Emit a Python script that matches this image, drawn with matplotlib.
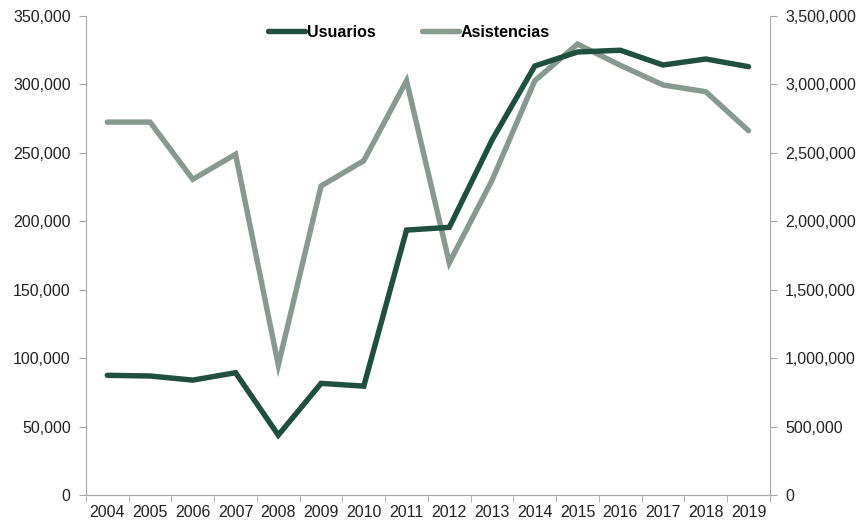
import matplotlib.pyplot as plt
from matplotlib.ticker import FuncFormatter, FixedLocator
import numpy as np

plt.rcParams['font.family'] = ['Liberation Sans', 'DejaVu Sans']

years = ['2004', '2005', '2006', '2007', '2008', '2009', '2010', '2011',
         '2012', '2013', '2014', '2015', '2016', '2017', '2018', '2019']
usuarios = [87500, 87000, 84000, 89400, 43800, 81600, 79600, 193600,
            195600, 259400, 313500, 323700, 325000, 314200, 318600, 313000]
asistencias = [2725000, 2725000, 2307000, 2490000, 950000, 2258000, 2443000, 3027000,
               1697000, 2300000, 3027000, 3295000, 3140000, 2996000, 2947000, 2662000]

c_usr = '#1f4f3e'
c_asi = '#879a90'
c_axis = '#a6a6a6'
fs = 11.5

fig = plt.figure(figsize=(8.68, 5.25), dpi=100)
ax = fig.add_axes([0.099, 0.057, 0.788, 0.9125])
ax2 = ax.twinx()

x = np.arange(len(years))
l1, = ax.plot(x, usuarios, color=c_usr, lw=3.9, solid_capstyle='round',
              solid_joinstyle='miter', label='Usuarios', zorder=3)
l2, = ax2.plot(x, asistencias, color=c_asi, lw=3.9, solid_capstyle='round',
               solid_joinstyle='miter', label='Asistencias', zorder=2)
ax.set_zorder(ax2.get_zorder() + 1)
ax.patch.set_visible(False)

ax.set_xlim(-0.5, len(years) - 0.5)
ax.set_ylim(0, 350000)
ax2.set_ylim(0, 3500000)
ax.set_yticks(np.arange(0, 350001, 50000))
ax2.set_yticks(np.arange(0, 3500001, 500000))
fmt = FuncFormatter(lambda v, p: f'{int(v):,}')
ax.yaxis.set_major_formatter(fmt)
ax2.yaxis.set_major_formatter(fmt)

ax.set_xticks(x)
ax.set_xticklabels(years)
ax.xaxis.set_minor_locator(FixedLocator(np.arange(-0.5, len(years), 1)))
ax.tick_params(axis='x', which='major', length=0, pad=7)
ax.tick_params(axis='x', which='minor', length=5, color=c_axis, direction='out')

for a in (ax, ax2):
    a.tick_params(axis='y', length=5, color=c_axis, direction='out', labelsize=fs,
                  labelcolor='#222222', pad=6)
    a.tick_params(axis='x', labelsize=fs, labelcolor='#222222')
    for s in a.spines.values():
        s.set_color(c_axis)
    a.spines['top'].set_visible(False)
ax.spines['right'].set_visible(False)
ax2.spines['left'].set_visible(False)

fig.legend(handles=[l1, l2], loc='center', bbox_to_anchor=(0.471, 0.938), ncol=2,
           frameon=False, prop={'weight': 'bold', 'size': fs}, handlelength=2.3,
           handletextpad=0.1, columnspacing=2.9)

fig.savefig('out.png', dpi=100)
